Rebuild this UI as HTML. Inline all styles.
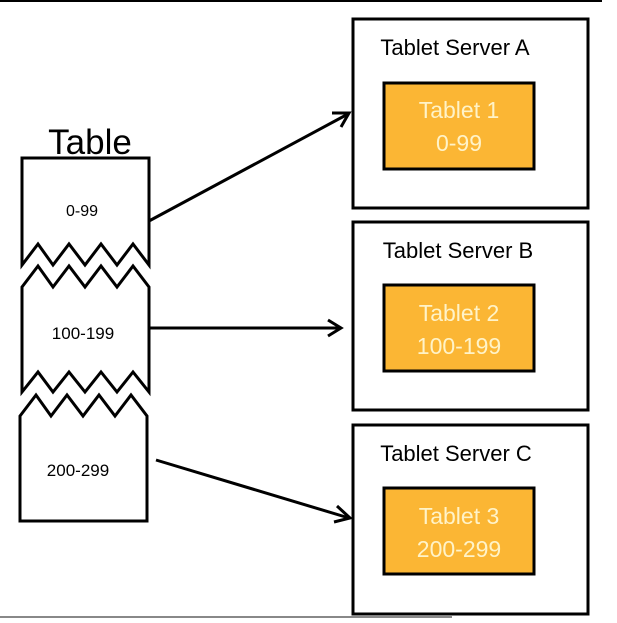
<!DOCTYPE html>
<html><head><style>
html,body{margin:0;padding:0;background:#fff;}
svg text{font-family:"Liberation Sans",sans-serif;}
</style></head><body>
<svg width="617" height="618" viewBox="0 0 617 618" xmlns="http://www.w3.org/2000/svg">
<line x1="0" y1="1" x2="602" y2="1" stroke="#000" stroke-width="2"/>
<line x1="0" y1="617" x2="452" y2="617" stroke="#888" stroke-width="2"/>
<g fill="#fff" stroke="#000" stroke-width="3" stroke-linejoin="miter">
<path d="M22,158 L149,158 L149,265 L133,244 L117,265 L101,244 L85,265 L69,244 L53,265 L38,244 L22,265 Z"/>
<path d="M22,287 L38,266 L53,287 L69,266 L85,287 L101,266 L117,287 L133,266 L149,287 L149,392 L133,372 L117,392 L101,372 L85,392 L69,372 L53,392 L38,372 L22,392 Z"/>
<path d="M20,416 L36,395 L51,416 L67,395 L83,416 L99,395 L115,416 L131,395 L147,416 L147,521 L20,521 Z"/>
</g>
<text x="90" y="154" font-size="35" text-anchor="middle">Table</text>
<text x="82" y="216" font-size="16" text-anchor="middle">0-99</text>
<text x="83" y="339" font-size="17" text-anchor="middle">100-199</text>
<text x="78" y="476" font-size="17" text-anchor="middle">200-299</text>
<g stroke="#000" stroke-width="3" fill="none">
<line x1="149" y1="221" x2="348" y2="114"/><path d="M332,113 L349,113 L341,127"/>
<line x1="149" y1="328" x2="340" y2="328"/><path d="M328,320 L341,328 L328,336"/>
<line x1="156" y1="460" x2="349" y2="518"/><path d="M337,506 L350,518 L334,522"/>
</g>
<g fill="#fff" stroke="#000" stroke-width="3">
<rect x="353" y="19" width="235" height="189"/>
<rect x="353" y="222" width="235" height="188"/>
<rect x="353" y="425" width="235" height="189"/>
</g>
<g fill="#fbb634" stroke="#000" stroke-width="3">
<rect x="384" y="83" width="150" height="86"/>
<rect x="384" y="285" width="150" height="86"/>
<rect x="384" y="488" width="150" height="86"/>
</g>
<g font-size="22" text-anchor="middle">
<text x="455" y="55">Tablet Server A</text>
<text x="458" y="258">Tablet Server B</text>
<text x="456" y="461">Tablet Server C</text>
</g>
<g font-size="23" text-anchor="middle" fill="#fff3c8">
<text x="459" y="118">Tablet 1</text><text x="459" y="151">0-99</text>
<text x="459" y="321">Tablet 2</text><text x="459" y="354">100-199</text>
<text x="459" y="524">Tablet 3</text><text x="459" y="557">200-299</text>
</g>
</svg>
</body></html>
